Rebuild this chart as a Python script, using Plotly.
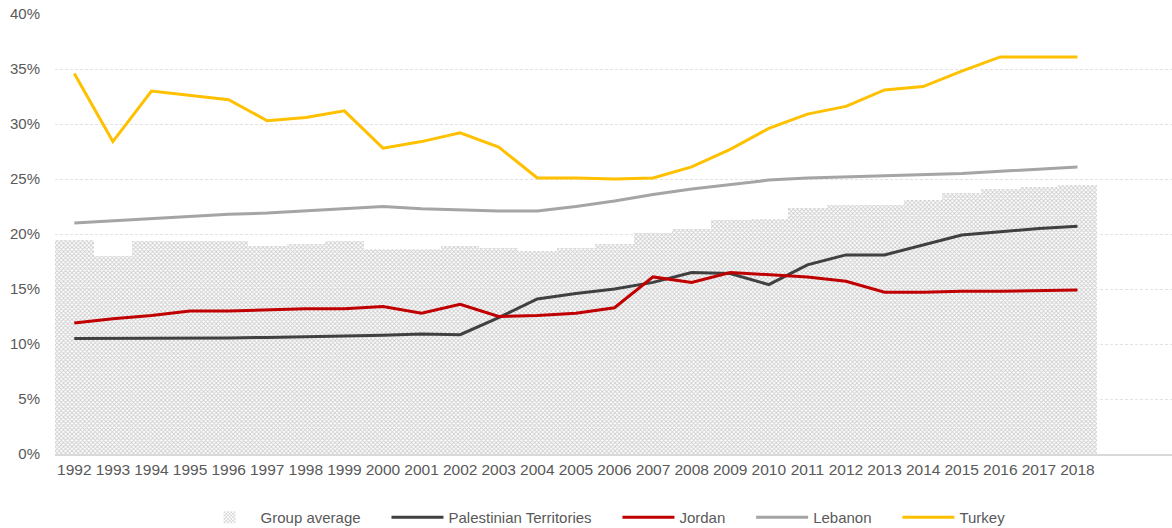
import plotly.graph_objects as go

years = list(range(1992, 2019))

group_average = [19.5, 18.0, 19.4, 19.4, 19.4, 18.9, 19.1, 19.4, 18.6, 18.6,
                 18.9, 18.7, 18.5, 18.7, 19.1, 20.1, 20.5, 21.3, 21.4, 22.4,
                 22.6, 22.6, 23.1, 23.7, 24.1, 24.3, 24.5]
palestinian = [10.5, 10.5, 10.5, 10.55, 10.55, 10.6, 10.65, 10.7, 10.8, 10.9,
               10.85, 12.4, 14.1, 14.6, 15.0, 15.6, 16.5, 16.4, 15.4, 17.2,
               18.1, 18.1, 19.0, 19.9, 20.2, 20.5, 20.7]
jordan = [11.9, 12.3, 12.6, 13.0, 13.0, 13.1, 13.2, 13.2, 13.4, 12.8,
          13.6, 12.5, 12.6, 12.8, 13.3, 16.1, 15.6, 16.5, 16.3, 16.1,
          15.7, 14.7, 14.7, 14.8, 14.8, 14.85, 14.9]
lebanon = [21.0, 21.2, 21.4, 21.6, 21.8, 21.9, 22.1, 22.3, 22.5, 22.3,
           22.2, 22.1, 22.1, 22.5, 23.0, 23.6, 24.1, 24.5, 24.9, 25.1,
           25.2, 25.3, 25.4, 25.5, 25.7, 25.9, 26.1]
turkey = [34.6, 28.4, 33.0, 32.6, 32.2, 30.3, 30.6, 31.2, 27.8, 28.4,
          29.2, 27.9, 25.1, 25.1, 25.0, 25.1, 26.1, 27.7, 29.6, 30.9,
          31.6, 33.1, 33.4, 34.8, 36.1, 36.1, 36.1]

y_ticks = [0, 5, 10, 15, 20, 25, 30, 35, 40]
y_tick_text = [f"{v}%" for v in y_ticks]

# trailing non-breaking spaces widen the gap between legend entries
PAD = "\u00a0" * 5

fig = go.Figure()

fig.add_trace(go.Bar(
    x=years, y=group_average, name="Group average" + PAD, width=1,
    marker=dict(
        color="white",
        line=dict(width=0),
        pattern=dict(shape="x", fgcolor="#999999", bgcolor="#ffffff",
                     size=3, solidity=0.5),
    ),
))

lines = [
    ("Palestinian Territories" + PAD, palestinian, "#404040"),
    ("Jordan" + PAD, jordan, "#C00000"),
    ("Lebanon" + PAD, lebanon, "#A5A5A5"),
    ("Turkey", turkey, "#FFC000"),
]
for name, vals, color in lines:
    fig.add_trace(go.Scatter(
        x=years, y=vals, name=name, mode="lines",
        line=dict(color=color, width=3),
    ))

fig.update_layout(
    width=1172, height=528,
    margin=dict(l=55, r=0, t=14, b=74, autoexpand=False),
    paper_bgcolor="white", plot_bgcolor="white",
    font=dict(family="Liberation Sans, Arial, sans-serif", color="#595959", size=15),
    bargap=0,
    showlegend=True,
    legend=dict(orientation="h", x=0.492, xanchor="center",
                yref="container", y=0.02, yanchor="middle",
                font=dict(size=15, color="#595959"), itemwidth=52,
                traceorder="normal"),
    xaxis=dict(
        range=[1991.5, 2020.45],
        tickmode="array", tickvals=years, ticktext=[str(y) for y in years],
        tickfont=dict(size=15.5, color="#595959"),
        showgrid=False, zeroline=False,
        showline=True, linecolor="#d9d9d9", linewidth=1.5,
        ticks="", ticklabelstandoff=1,
    ),
    yaxis=dict(
        range=[0, 40],
        tickmode="array", tickvals=y_ticks, ticktext=y_tick_text,
        tickfont=dict(size=15, color="#595959"),
        showgrid=True, gridcolor="#e3e3e3", griddash="3px,2px", gridwidth=1,
        zeroline=False, showline=False, ticks="",
        ticklabelstandoff=14,
    ),
)

fig.write_html("out.html")
